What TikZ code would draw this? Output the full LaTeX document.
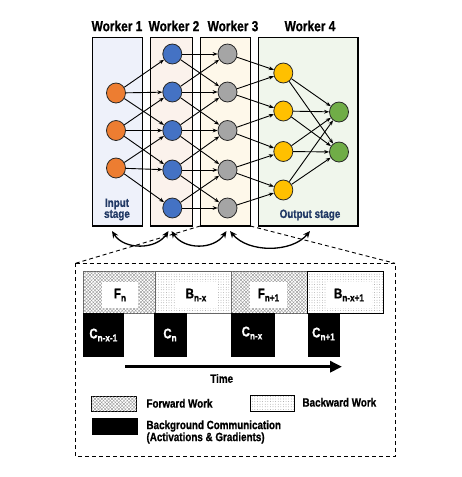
\documentclass[tikz,border=0pt]{standalone}
\usepackage{fontspec}
\setmainfont{Liberation Sans}[FakeStretch=0.82,BoldFeatures={FakeBold=0.8}]
\usetikzlibrary{patterns.meta,arrows.meta,shapes.geometric}
\definecolor{wone}{HTML}{EEF1FA}
\definecolor{wtwo}{HTML}{FBF2EC}
\definecolor{wthree}{HTML}{FEF8EA}
\definecolor{wfour}{HTML}{F0F6EC}
\definecolor{corange}{HTML}{ED7D31}
\definecolor{cblue}{HTML}{4472C4}
\definecolor{cgray}{HTML}{A5A5A5}
\definecolor{cyellow}{HTML}{FFC000}
\definecolor{cgreen}{HTML}{70AD47}
\definecolor{navy}{HTML}{203864}
\newcommand{\sbs}[1]{\raisebox{-3pt}{\fontsize{10}{10}\selectfont #1}}
\tikzset{
  wbox/.style={draw=black,line width=1.1pt},
  neuron/.style={ellipse,draw=black!85,line width=0.8pt,minimum width=19pt,minimum height=20pt,inner sep=0pt},
  edge/.style={line width=0.9pt,-{Stealth[length=5pt,width=3.8pt]}},
  wlabel/.style={font=\bfseries\fontsize{14.5}{16}\selectfont},
  slabel/.style={font=\bfseries\fontsize{12}{13}\selectfont,text=navy,align=center},
  fwd/.style={draw=black!60,line width=0.6pt,pattern={Lines[angle=45,distance=2.4pt,line width=0.35pt]},pattern color=black!45,
    postaction={pattern={Lines[angle=-45,distance=2.4pt,line width=0.35pt]},pattern color=black!45}},
  bwd/.style={draw=black!60,line width=0.6pt,pattern={Dots[radius=0.35pt,distance=2.6pt]},pattern color=black!55},
  tlabel/.style={fill=white,inner sep=0pt,font=\bfseries\fontsize{14}{15}\selectfont},
  cbox/.style={fill=black,draw=black},
  clabel/.style={text=white,font=\bfseries\fontsize{14}{15}\selectfont},
  legtext/.style={font=\bfseries\fontsize{12}{13}\selectfont,anchor=west,align=left},
  curv/.style={line width=1.3pt,{Stealth[length=7pt,width=6pt]}-{Stealth[length=7pt,width=6pt]}},
  dsh/.style={line width=0.9pt,dash pattern=on 4pt off 3pt}
}
\begin{document}
\begin{tikzpicture}[x=1pt,y=-1pt]
\useasboundingbox (0,0) rectangle (462,477);
% worker boxes
\draw[wbox,fill=wone] (92.3,37.3) rectangle (142.3,226);
\draw[wbox,fill=wtwo] (150.3,37.3) rectangle (192.3,226);
\draw[wbox,fill=wthree] (200.3,37.3) rectangle (250.3,226);
\draw[wbox,fill=wfour] (258.3,37.3) rectangle (358,226);
\node[wlabel] (l1) at (117,26) {Worker 1};
\node[wlabel] (l2) at (174,26) {Worker 2};
\node[wlabel] (l3) at (233,26) {Worker 3};
\node[wlabel] (l4) at (310,26) {Worker 4};
\node[slabel] (inp) at (117,209.5) {Input\\[-2pt]stage};
\node[slabel] (outp) at (310,215) {Output stage};
% neurons
\foreach \i/\y in {1/93,2/130.5,3/168}
  \node[neuron,fill=corange] (o\i) at (116,\y) {};
\foreach \i/\y in {1/54,2/92,3/130.5,4/170,5/208}{
  \node[neuron,fill=cblue] (b\i) at (172.3,\y) {};
  \node[neuron,fill=cgray] (g\i) at (227.5,\y) {};
}
\foreach \i/\y in {1/73,2/111,3/151.5,4/190}
  \node[neuron,fill=cyellow] (y\i) at (283.3,\y) {};
\foreach \i/\y in {1/112,2/152}
  \node[neuron,fill=cgreen] (gr\i) at (339,\y) {};
% edges
\foreach \i in {1,2,3}{
  \foreach \d in {0,1,2}{
    \pgfmathtruncatemacro{\j}{\i+\d}
    \draw[edge] (o\i) -- (b\j);
  }
}
\foreach \i in {1,...,5}{
  \foreach \d in {-1,0,1}{
    \pgfmathtruncatemacro{\j}{\i+\d}
    \ifnum\j>0 \ifnum\j<6 \draw[edge] (b\i) -- (g\j); \fi\fi
  }
}
\foreach \i in {1,...,5}{
  \foreach \d in {-1,0}{
    \pgfmathtruncatemacro{\j}{\i+\d}
    \ifnum\j>0 \ifnum\j<5 \draw[edge] (g\i) -- (y\j); \fi\fi
  }
}
\foreach \i in {1,...,4}{
  \foreach \j in {1,2}
    \draw[edge] (y\i) -- (gr\j);
}
% curved arrows
\coordinate (c1) at (112,231);
\coordinate (c2) at (168.5,231);
\coordinate (c3) at (171.5,231);
\coordinate (c4) at (226.5,231);
\coordinate (c5) at (230,231);
\coordinate (c6) at (310,231);
\draw[curv] (c1) .. controls (124,250) and (156,250) .. (c2);
\draw[curv] (c3) .. controls (184,250) and (214,250) .. (c4);
\draw[curv] (c5) .. controls (248,253) and (292,253) .. (c6);
% dashed zoom lines and box
\coordinate (w3bl) at (200.3,226);
\coordinate (w3br) at (250.3,226);
\coordinate (dtl) at (75.5,263.3);
\coordinate (dtr) at (395,263.3);
\coordinate (dbl) at (75.5,456.7);
\coordinate (dbr) at (395,456.7);
\draw[dsh] (w3bl) -- (dtl);
\draw[dsh] (w3br) -- (dtr);
\draw[dsh] (dtl) -- (dtr) -- (dbr) -- (dbl) -- cycle;
% timeline
\draw[fwd] (83.3,271.7) rectangle (155,313.3);
\draw[bwd] (155,271.7) rectangle (231,313.3);
\draw[fwd] (231,271.7) rectangle (307.7,313.3);
\draw[bwd,draw=black] (307.7,271.7) rectangle (383.3,313.3);
\node[tlabel,minimum width=36pt,minimum height=26pt] (fn) at (120,295) {F\sbs{n}};
\node[tlabel,minimum width=42pt,minimum height=26pt] (bn) at (196,295) {B\sbs{n-x}};
\node[tlabel,minimum width=37pt,minimum height=26pt] (fn1) at (268.5,295) {F\sbs{n+1}};
\node[tlabel,minimum width=45pt,minimum height=26pt] (bn1) at (349,295) {B\sbs{n-x+1}};
\draw[cbox] (83.3,313.3) rectangle (123.3,356);
\draw[cbox] (154.3,313.3) rectangle (186,356);
\draw[cbox] (230.7,313.3) rectangle (274,356);
\draw[cbox] (307.7,313.3) rectangle (339.3,356);
\node[clabel] (c0) at (103.3,335) {C\sbs{n-x-1}};
\node[clabel] (cn) at (170,335) {C\sbs{n}};
\node[clabel] (cnx) at (252,333) {C\sbs{n-x}};
\node[clabel] (cn1) at (323.5,334) {C\sbs{n+1}};
% time arrow
\coordinate (ts) at (125,366.7);
\coordinate (te) at (342,366.7);
\draw[line width=3.3pt,-{Triangle[length=12pt,width=11pt]}] (ts) -- (te);
\node[font=\bfseries\fontsize{12}{13}\selectfont] (time) at (221.7,378.5) {Time};
% legend
\draw[fwd,draw=black] (91.7,396) rectangle (136.7,411.7);
\node[legtext] (lf) at (143,403.3) {Forward Work};
\draw[bwd,draw=black] (250,395) rectangle (294,411);
\node[legtext] (lb) at (299,402.3) {Backward Work};
\draw[cbox] (91.7,418.3) rectangle (136.7,434);
\node[legtext] (lc) at (143,432) {Background Communication\\[-1pt](Activations \& Gradients)};
\end{tikzpicture}
\end{document}
